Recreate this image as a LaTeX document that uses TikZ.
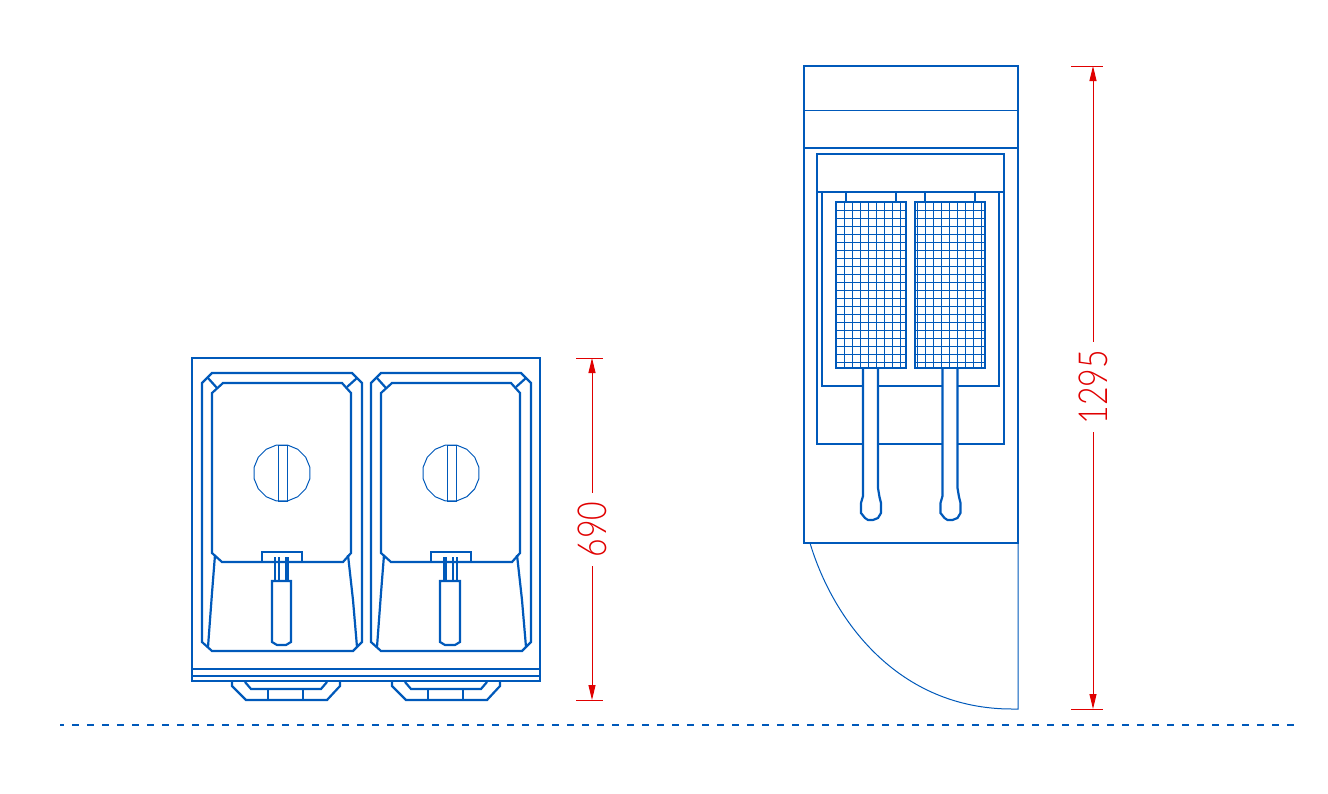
\documentclass[tikz,border=0pt]{standalone}
\usepackage{fontspec}
\usetikzlibrary{arrows.meta}
\newfontfamily\dimfont[FakeStretch=0.8]{Lato Light}
\definecolor{cadblue}{HTML}{0059BA}
\definecolor{cadred}{HTML}{E00000}

\tikzset{
  heavy/.style={
    draw=cadblue,
    line width=2.2pt,
  },
  thin line/.style={
    draw=cadblue,
    line width=1pt,
  },
  dimline/.style={
    draw=cadred,
    line width=1pt,
  },
  dimarrow/.style={
    dimline,
    {Triangle[length=15pt,width=7pt]}-,
  },
  dimlabel/.style={
    rotate=90,
    text=cadred,
    inner sep=0pt,
    font=\dimfont\fontsize{40}{40}\selectfont,
  },
  floor/.style={
    draw=cadblue,
    line width=2pt,
    dash pattern=on 7pt off 8pt,
    dash phase=3pt,
  },
}

\begin{document}
\begin{tikzpicture}[x=1pt, y=-1pt]

      \useasboundingbox (0,0) rectangle (1328,793);

      % front view
      \draw[heavy] (192,358) rectangle (540,681);
      \draw[heavy] (192,669)--(540,669) (192,676)--(540,676);

      \foreach \dx in {0,169} {
        \begin{scope}[xshift=\dx pt]
          \draw[heavy] (202,642)--(202,383)--(212,373)--(352,373)--(362,383)--(362,642)--(353,651)--(212,651)--cycle;
          \draw[heavy] (212,393)--(223,383)--(342,383)--(351,393)--(351,553)--(343,562)--(222,562)--(212,553)--cycle;
          \draw[heavy] (208,378)--(217,388) (357,378)--(347,387);
          \draw[heavy] (215,555)--(212,593)--(208,647) (348,555)--(353,600)--(357,647);
          % knob
          \draw[thin line] plot[samples at={11.25,33.75,...,348.75}] ({282+28.5*cos(\x)},{473+28.5*sin(\x)}) -- cycle;
          \draw[thin line] (278,445) rectangle (287,501);
          % basket tab
          \draw[heavy] (262,562)--(262,552)--(302,552)--(302,562);
        \end{scope}
      }

      % basket handles
      \draw[heavy] (275,557)--(275,581) (279,557)--(279,581) (286,557)--(286,581) (288,557)--(288,581);
      \draw[heavy] (272,581)--(291,581)--(291,642)--(286,645)--(277,645)--(272,642)--cycle;
      \draw[heavy] (444,557)--(444,581) (446,557)--(446,581) (453,557)--(453,581) (457,557)--(457,581);
      \draw[heavy] (440,581)--(460,581)--(460,642)--(455,645)--(445,645)--(440,642)--cycle;

      \foreach \dx in {0,160} {
        \begin{scope}[xshift=\dx pt]
          \draw[heavy] (232,682)--(232,686)--(246,700)--(327,700)--(340,686)--(340,682);
          \draw[heavy] (245,682)--(251,689)--(321,689)--(327,682);
          \draw[heavy] (268,689)--(268,700) (303,689)--(303,700);
        \end{scope}
      }

      % side view
      \draw[heavy] (804,66) rectangle (1018,543);
      \draw[thin line] (804,110)--(1018,110);
      \draw[heavy] (804,148)--(1018,148);
      \draw[heavy] (817,154) rectangle (1004,444);
      \draw[heavy] (817,192)--(1004,192);
      \draw[heavy] (822,192)--(822,386)--(999,386)--(999,192);
      \draw[thin line] (810,543) .. controls (833,620) and (898,709) .. (1012,709) -- (1018,709) -- (1018,543);

      \foreach \dx in {0,79.5} {
        \begin{scope}[xshift=\dx pt]
          \draw[heavy, fill=white] (863,368)--(863,496)--(861,503)--(861,513)--(865,518)--(868,520)--(873,520)--(878,518)--(881,513)--(881,503)--(879.5,497)--(878,488)--(878,368);
        \end{scope}
      }

      \foreach \x/\first/\second/\last in {836/844/852.1/901, 915/917/925.1/982} {
        \draw[thin line] foreach \i in {\first,\second,...,\last} { (\i,202)--(\i,368) };
        \draw[thin line] foreach \j in {210,218,...,362} { (\x,\j)--(\x+70,\j) };
        \draw[heavy] (\x,202) rectangle (\x+70,368);
      }
      \draw[heavy] (846,192)--(846,202) (896,192)--(896,202) (925,192)--(925,202) (975,192)--(975,202);

      % dimensions
      \node[dimlabel, minimum width=73pt](dimfront) at (592,529.5) {690};
      \coordinate (fronttop) at (592,358);
      \coordinate (frontbot) at (592,700);
      \draw[dimline] (576,358)--(603,358) (576,700)--(603,700);
      \draw[dimarrow] (fronttop)--(dimfront);
      \draw[dimarrow] (frontbot)--(dimfront);

      \node[dimlabel, minimum width=90pt](dimside) at (1093,387) {1295};
      \coordinate (sidetop) at (1093,66);
      \coordinate (sidebot) at (1093,709);
      \draw[dimline] (1071,66)--(1103,66) (1071,709)--(1103,709);
      \draw[dimarrow] (sidetop)--(dimside);
      \draw[dimarrow] (sidebot)--(dimside);

      % floor line
      \draw[floor] (60,725)--(1298,725);

    \end{tikzpicture}
\end{document}
